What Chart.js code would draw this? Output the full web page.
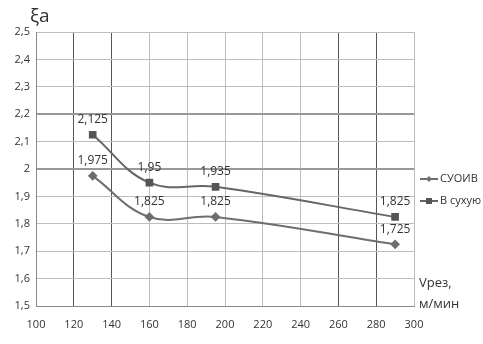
<!DOCTYPE html>
<html>
<head>
<meta charset="utf-8">
<script src="https://cdn.jsdelivr.net/npm/chart.js@4/dist/chart.umd.min.js"></script>
<style>
  html, body { margin: 0; padding: 0; background: #fff; }
  #wrap { width: 483px; height: 344px; }
</style>
</head>
<body>
<div id="wrap"><canvas id="c" width="483" height="344"></canvas></div>
<script>
const SPEEDS = [130, 160, 195, 290];
const SUOIV = [1.975, 1.825, 1.825, 1.725];
const DRY = [2.125, 1.95, 1.935, 1.825];
const SERIES_NAMES = ["СУОИВ", "В сухую"];
const Y_TITLE = "ξa";
const X_TITLE = ["Vрез,", "м/мин"];

const FONT = "'Open Sans', 'DejaVu Sans', sans-serif";
const TEXT = "#333";
const DARK_X = [120, 140, 260, 280];
const DARK_Y = [2.0, 2.2];

const fmt = (v) => String(Math.round(v * 1000) / 1000).replace(".", ",");

const extras = {
  id: "extras",
  afterDatasetsDraw(chart) {
    const ctx = chart.ctx;
    ctx.save();
    ctx.font = "12px " + FONT;
    ctx.fillStyle = TEXT;
    ctx.textAlign = "center";
    ctx.textBaseline = "middle";
    chart.data.datasets.forEach((ds, i) => {
      chart.getDatasetMeta(i).data.forEach((pt, j) => {
        ctx.fillText(fmt(ds.data[j].y), pt.x, pt.y - 15);
      });
    });

    // axis titles
    ctx.textAlign = "left";
    ctx.font = "19px " + FONT;
    ctx.fillText(Y_TITLE, 30, 17);
    ctx.font = "13px " + FONT;
    ctx.fillText(X_TITLE[0], 419, 283);
    ctx.fillText(X_TITLE[1], 419, 304);

    // legend
    ctx.font = "11px " + FONT;
    chart.data.datasets.forEach((ds, i) => {
      const y = 179 + i * 22;
      ctx.strokeStyle = ds.borderColor;
      ctx.lineWidth = 2;
      ctx.beginPath();
      ctx.moveTo(420, y);
      ctx.lineTo(438, y);
      ctx.stroke();
      ctx.fillStyle = ds.pointBackgroundColor;
      if (ds.pointStyle === "rect") {
        ctx.fillRect(426, y - 3, 6, 6);
      } else {
        ctx.beginPath();
        ctx.moveTo(429, y - 3);
        ctx.lineTo(432, y);
        ctx.lineTo(429, y + 3);
        ctx.lineTo(426, y);
        ctx.closePath();
        ctx.fill();
      }
      ctx.fillStyle = TEXT;
      ctx.fillText(SERIES_NAMES[i], 440, y);
    });
    ctx.restore();
  }
};

new Chart(document.getElementById("c"), {
  type: "line",
  data: {
    datasets: [
      {
        label: SERIES_NAMES[0],
        data: SPEEDS.map((x, i) => ({ x, y: SUOIV[i] })),
        borderColor: "#6e6e6e",
        backgroundColor: "#6e6e6e",
        pointBackgroundColor: "#6e6e6e",
        pointBorderColor: "#6e6e6e",
        pointStyle: "rectRot",
        pointRadius: 3.5,
        borderWidth: 2,
        tension: 0.4
      },
      {
        label: SERIES_NAMES[1],
        data: SPEEDS.map((x, i) => ({ x, y: DRY[i] })),
        borderColor: "#666666",
        backgroundColor: "#555555",
        pointBackgroundColor: "#555555",
        pointBorderColor: "#555555",
        pointStyle: "rect",
        pointRadius: 4,
        borderWidth: 2,
        tension: 0.4
      }
    ]
  },
  options: {
    responsive: false,
    animation: false,
    layout: { padding: { left: 0, right: 69, top: 32, bottom: 0 } },
    scales: {
      x: {
        type: "linear",
        min: 100,
        max: 300,
        afterFit: (s) => { s.height = 38; },
        ticks: {
          stepSize: 20,
          color: TEXT,
          font: { family: FONT, size: 11 },
          padding: 12
        },
        grid: {
          drawTicks: false,
          color: (c) => DARK_X.includes(c.tick && c.tick.value) ? "#555" : "#bdbdbd",
          lineWidth: 1
        },
        border: { color: "#888" }
      },
      y: {
        min: 1.5,
        max: 2.5,
        afterFit: (s) => { s.width = 36; },
        ticks: {
          stepSize: 0.1,
          color: TEXT,
          font: { family: FONT, size: 11 },
          padding: 6,
          callback: (v) => fmt(Math.round(v * 10) / 10)
        },
        grid: {
          drawTicks: false,
          color: (c) => {
            const v = c.tick && Math.round(c.tick.value * 10) / 10;
            return DARK_Y.includes(v) ? "#999" : "#bdbdbd";
          },
          lineWidth: (c) => {
            const v = c.tick && Math.round(c.tick.value * 10) / 10;
            return DARK_Y.includes(v) ? 2 : 1;
          }
        },
        border: { color: "#888" }
      }
    },
    plugins: {
      legend: { display: false },
      tooltip: { enabled: false }
    }
  },
  plugins: [extras]
});
</script>
</body>
</html>
